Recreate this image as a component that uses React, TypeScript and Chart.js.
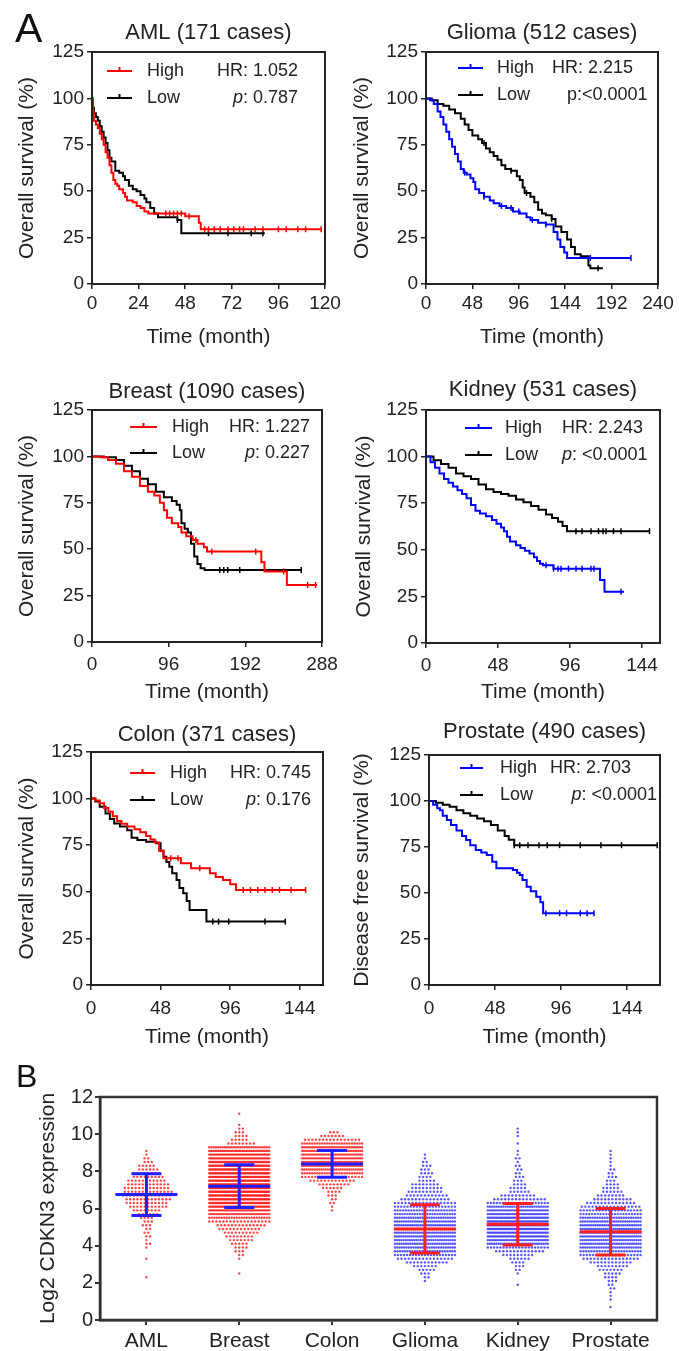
import React, { useEffect, useRef } from 'react';
import { Chart, registerables } from 'chart.js';

Chart.register(...registerables);

const FONT = '"Liberation Sans", Arial, Helvetica, sans-serif';
Chart.defaults.font.family = FONT;
const INK = '#222222';
const RED = '#ff0000';
const BLUE = '#0000ff';
const BLACK = '#000000';

// ================= Panel A: Kaplan-Meier data =================
const KM_TITLES = ['AML (171 cases)', 'Glioma (512 cases)', 'Breast (1090 cases)', 'Kidney (531 cases)', 'Colon (371 cases)', 'Prostate (490 cases)'];
const KM_Y_TITLES = ['Overall survival (%)', 'Overall survival (%)', 'Overall survival (%)', 'Overall survival (%)', 'Overall survival (%)', 'Disease free survival (%)'];
const KM_X_TITLE = 'Time (month)';
const HR_VALUES = ['1.052', '2.215', '1.227', '2.243', '0.745', '2.703'];
const P_VALUES = ['0.787', '<0.0001', '0.227', '<0.0001', '0.176', '<0.0001'];
const P_ITALIC = [true, false, true, true, true, true];
const P_SEP = [': ', ':', ': ', ': ', ': ', ': '];
const LEGEND_LABELS = ['High', 'Low'];
const SURV_TICKS = [0, 25, 50, 75, 100, 125];
const AML_TIME_TICKS = [0, 24, 48, 72, 96, 120];
const GLIOMA_TIME_TICKS = [0, 48, 96, 144, 192, 240];
const BREAST_TIME_TICKS = [0, 96, 192, 288];
const KIDNEY_TIME_TICKS = [0, 48, 96, 144];
const COLON_TIME_TICKS = [0, 48, 96, 144];
const PROSTATE_TIME_TICKS = [0, 48, 96, 144];
const TIME_MAX = [120, 240, 288, 156, 160, 168];

// [time (month), survival (%)]
const AML_HIGH = [[0, 100], [0.5, 93], [1, 88], [2, 86], [3, 84], [4, 81], [5, 78], [6, 75], [7, 71], [8, 68], [9, 64], [10, 60], [11, 56], [12, 54], [13, 53], [14, 51], [16, 49], [17, 47], [18, 45], [21, 44], [23, 42], [25, 41], [27, 39], [29, 38], [48, 36.5], [55, 33], [56, 29.5], [118, 29.5]];
const AML_LOW = [[0, 100], [0.5, 95], [1, 92], [2, 90], [3, 88], [4, 85], [5, 82], [6, 79], [7, 76], [8, 72], [9, 68], [10, 66], [12, 61], [14, 60], [16, 58], [17, 56], [19, 53], [21, 51], [23, 50], [25, 48], [27, 46], [28, 44], [30, 41], [32, 38], [34, 36], [44, 34.5], [46, 27.4], [89, 27.4]];
const AML_HIGH_CENS = [38, 40, 42, 44, 46, 50, 58, 60, 63, 66, 70, 73, 76, 78, 84, 88, 96, 100, 106, 110, 118];
const AML_LOW_CENS = [44, 60, 70, 82, 88];

const GLIOMA_HIGH = [[0, 100], [4, 99], [8, 97], [12, 93], [15, 90], [18, 86], [21, 82], [24, 78], [27, 74], [30, 70], [33, 66], [36, 62], [39, 60], [42, 59], [46, 57], [49, 55], [51, 51], [55, 49], [60, 47], [66, 45], [70, 43.5], [76, 42], [83, 41], [90, 39], [97, 38], [104, 36], [108, 34.5], [116, 33], [124, 32], [132, 28], [136, 24], [139, 20], [143, 17], [146, 14], [212, 14]];
const GLIOMA_LOW = [[0, 100], [6, 99], [12, 97], [18, 96], [24, 94], [30, 92], [36, 89], [40, 86], [44, 83], [48, 80], [54, 78], [58, 76], [62, 73], [66, 71], [70, 69], [74, 67], [78, 64], [82, 62], [88, 61], [94, 58], [97, 56], [100, 52], [102, 49], [108, 47], [112, 44], [116, 40], [120, 38], [124, 37], [130, 35], [134, 31], [140, 28], [146, 24], [150, 20], [154, 16], [160, 15], [168, 10], [170, 8.5], [183, 8.5]];
const GLIOMA_HIGH_CENS = [40, 60, 78, 88, 96, 110, 124, 170, 212];
const GLIOMA_LOW_CENS = [60, 88, 104, 130, 178];

const BREAST_HIGH = [[0, 100], [10, 99.5], [20, 98], [30, 96], [40, 92], [50, 89], [60, 84], [70, 81], [78, 79], [85, 75], [90, 71], [94, 67], [100, 64], [108, 62], [112, 59], [118, 57], [126, 55], [132, 53], [140, 51], [144, 48.7], [212, 43], [216, 38], [244, 30.7], [282, 30.7]];
const BREAST_LOW = [[0, 100], [15, 99.5], [30, 98], [40, 95], [50, 92], [60, 88], [70, 85], [80, 81], [90, 78], [100, 76], [106, 74], [110, 71], [112, 64], [116, 61], [120, 59], [124, 53], [128, 46], [132, 42], [136, 39.7], [141, 38.8], [262, 38.8]];
const BREAST_HIGH_CENS = [130, 150, 205, 240, 270, 280];
const BREAST_LOW_CENS = [160, 165, 170, 185, 262];

const KIDNEY_HIGH = [[0, 100], [3, 97], [6, 94], [9, 91], [12, 88], [15, 86], [18, 84], [21, 82], [24, 80], [27, 77.6], [30, 74], [33, 71], [36, 69.5], [40, 68], [44, 66], [47, 64], [50, 62], [52, 60], [54, 57], [56, 54.5], [60, 52.5], [63, 51], [66, 49.5], [69, 48], [72, 46], [74, 44], [76, 42.5], [78, 41.7], [85, 39.9], [116, 33.8], [119, 27.5], [132, 27.5]];
const KIDNEY_LOW = [[0, 100], [5, 98], [10, 96], [15, 94], [20, 91], [25, 89.5], [30, 88], [35, 85], [40, 82.5], [45, 81], [50, 80], [55, 79], [60, 77], [65, 75.5], [70, 73.5], [75, 71.5], [80, 69], [84, 67], [88, 65], [91, 62.8], [94, 60], [149, 60]];
const KIDNEY_HIGH_CENS = [80, 85, 88, 90, 95, 100, 104, 110, 112, 130];
const KIDNEY_LOW_CENS = [100, 104, 110, 115, 118, 120, 125, 130, 149];

const COLON_HIGH = [[0, 100], [3, 99], [6, 97.5], [9, 95], [12, 93], [15, 90.5], [18, 88], [21, 86.5], [25, 85], [30, 83.5], [34, 82], [38, 80], [41, 78], [44, 76.5], [47, 72], [50, 68], [62, 65.3], [69, 62.6], [82, 59.9], [86, 58], [91, 56.3], [96, 54], [100, 51], [148, 51]];
const COLON_LOW = [[0, 100], [3, 98.5], [6, 95.6], [10, 92], [13, 89], [16, 86.7], [20, 85], [25, 83], [28, 79], [32, 77.8], [38, 76.9], [45, 76], [48, 72], [50, 68.8], [52, 66], [54, 63.5], [56, 60], [59, 56.3], [61, 52], [63.6, 49.2], [66, 45], [68, 40.2], [79.6, 34], [134, 34]];
const COLON_HIGH_CENS = [55, 60, 75, 105, 110, 115, 120, 125, 130, 138, 148];
const COLON_LOW_CENS = [84, 88, 95, 120, 134];

const PROSTATE_HIGH = [[0, 100], [3, 98], [6, 96], [8, 95], [10, 92], [13, 89.7], [16, 87], [20, 84], [24, 81], [27, 78.8], [30, 76], [34, 73.4], [38, 72], [42, 70.7], [46, 67], [49, 63.4], [61, 62.5], [64, 61], [66, 59.8], [68, 57], [71, 53.4], [74, 51], [78, 48], [81, 45], [83, 39], [120, 39]];
const PROSTATE_LOW = [[0, 100], [5, 99], [10, 98], [15, 96.9], [20, 95], [25, 93.3], [30, 92], [35, 90.5], [40, 89], [45, 87], [50, 84], [55, 81], [58, 79], [62, 76], [166, 76]];
const PROSTATE_HIGH_CENS = [85, 95, 100, 110, 115, 120];
const PROSTATE_LOW_CENS = [62, 66, 72, 80, 86, 95, 110, 125, 140, 166];

const KM_HIGH = [AML_HIGH, GLIOMA_HIGH, BREAST_HIGH, KIDNEY_HIGH, COLON_HIGH, PROSTATE_HIGH];
const KM_LOW = [AML_LOW, GLIOMA_LOW, BREAST_LOW, KIDNEY_LOW, COLON_LOW, PROSTATE_LOW];
const KM_HIGH_CENS = [AML_HIGH_CENS, GLIOMA_HIGH_CENS, BREAST_HIGH_CENS, KIDNEY_HIGH_CENS, COLON_HIGH_CENS, PROSTATE_HIGH_CENS];
const KM_LOW_CENS = [AML_LOW_CENS, GLIOMA_LOW_CENS, BREAST_LOW_CENS, KIDNEY_LOW_CENS, COLON_LOW_CENS, PROSTATE_LOW_CENS];
const KM_TIME_TICKS = [AML_TIME_TICKS, GLIOMA_TIME_TICKS, BREAST_TIME_TICKS, KIDNEY_TIME_TICKS, COLON_TIME_TICKS, PROSTATE_TIME_TICKS];
const KM_HIGH_COLORS = [RED, BLUE, RED, BLUE, RED, BLUE];

// ================= Panel B: expression data =================
const EXPR_CATS = ['AML', 'Breast', 'Colon', 'Glioma', 'Kidney', 'Prostate'];
const EXPR_TICKS = [0, 2, 4, 6, 8, 10, 12];
const EXPR_BIN_WIDTH = 0.2;
const EXPR_BIN_START = [2.3, 2.5, 5.9, 2.1, 1.9, 0.7];
const AML_EXPR_COUNTS = [1, 0, 0, 0, 0, 1, 0, 0, 1, 2, 1, 2, 2, 2, 3, 3, 4, 6, 8, 11, 12, 13, 14, 14, 13, 12, 11, 9, 8, 6, 5, 3, 2, 1, 1];
const BREAST_EXPR_COUNTS = [1, 0, 0, 0, 1, 2, 3, 4, 5, 7, 8, 10, 12, 14, 18, 25, 35, 42, 50, 54, 57, 59, 60, 58, 57, 56, 55, 54, 53, 52, 50, 48, 46, 42, 28, 8, 5, 4, 3, 2, 1, 0, 0, 1];
const COLON_EXPR_COUNTS = [1, 1, 2, 2, 3, 4, 6, 9, 13, 19, 25, 29, 33, 35, 36, 36, 35, 31, 25, 16, 7, 3];
const GLIOMA_EXPR_COUNTS = [1, 2, 3, 5, 7, 12, 16, 21, 25, 27, 28, 29, 30, 30, 30, 29, 28, 27, 25, 23, 20, 18, 14, 12, 10, 9, 8, 5, 4, 4, 3, 3, 2, 1, 1];
const KIDNEY_EXPR_COUNTS = [1, 0, 0, 1, 2, 3, 4, 6, 9, 14, 20, 29, 34, 37, 39, 40, 40, 39, 37, 35, 31, 28, 21, 15, 10, 6, 5, 4, 3, 3, 2, 2, 2, 1, 2, 1, 1, 0, 1, 0, 1, 1, 1];
const PROSTATE_EXPR_COUNTS = [1, 0, 1, 1, 1, 2, 2, 3, 4, 5, 7, 9, 12, 16, 20, 23, 27, 29, 30, 31, 31, 30, 29, 28, 26, 22, 20, 17, 14, 11, 8, 6, 5, 4, 3, 3, 2, 2, 1, 1, 1, 1, 1];
const EXPR_COUNTS = [AML_EXPR_COUNTS, BREAST_EXPR_COUNTS, COLON_EXPR_COUNTS, GLIOMA_EXPR_COUNTS, KIDNEY_EXPR_COUNTS, PROSTATE_EXPR_COUNTS];
const EXPR_MEANS = [6.75, 7.2, 8.4, 4.9, 5.15, 4.75];
const EXPR_SDS = [1.12, 1.15, 0.72, 1.3, 1.12, 1.25];
const EXPR_DOT_COLORS = ['rgba(255,25,25,0.8)', 'rgba(255,25,25,0.8)', 'rgba(255,25,25,0.8)', 'rgba(45,45,255,0.8)', 'rgba(45,45,255,0.8)', 'rgba(45,45,255,0.8)'];
const EXPR_BAR_COLORS = ['#1f1fff', '#1f1fff', '#1f1fff', '#ff1f1f', '#ff1f1f', '#ff1f1f'];
const EXPR_Y_TITLE = 'Log2 CDKN3 expression';

// ================= Layout / style =================
type Area = { l: number; t: number; r: number; b: number };
type Pos = { align: 'left' | 'right'; dx: number };
type KMLayout = {
  canvas: { left: number; top: number; width: number };
  area: Area;
  yTitleX: number;
  titleDy: number;
  xTickPad: number;
  xTitleDy: number;
  legend: { x1: number; x2: number; tx: number; r1: number; r2: number };
  hr: Pos;
  p: Pos;
  letter?: string;
};
const KM_BOTTOM_EXTRA = 70;
const KM_LAYOUT: KMLayout[] = [
  { canvas: { left: 0, top: 0, width: 360 }, area: { l: 92, t: 52, r: 325, b: 284 }, yTitleX: 27, titleDy: 19, xTickPad: 3, xTitleDy: 53, legend: { x1: 15, x2: 40, tx: 55, r1: 19, r2: 46 }, hr: { align: 'right', dx: 206 }, p: { align: 'right', dx: 206 }, letter: 'A' },
  { canvas: { left: 340, top: 0, width: 339 }, area: { l: 426, t: 52, r: 658, b: 284 }, yTitleX: 22, titleDy: 19, xTickPad: 3, xTitleDy: 53, legend: { x1: 32, x2: 57, tx: 71, r1: 16, r2: 43 }, hr: { align: 'left', dx: 126 }, p: { align: 'left', dx: 141 } },
  { canvas: { left: 0, top: 358, width: 360 }, area: { l: 92, t: 410, r: 322, b: 642 }, yTitleX: 27, titleDy: 18, xTickPad: 6, xTitleDy: 50, legend: { x1: 38, x2: 65, tx: 80, r1: 17, r2: 43 }, hr: { align: 'right', dx: 218 }, p: { align: 'right', dx: 218 } },
  { canvas: { left: 340, top: 358, width: 339 }, area: { l: 426, t: 410, r: 660, b: 643 }, yTitleX: 24, titleDy: 20, xTickPad: 6, xTitleDy: 49, legend: { x1: 39, x2: 66, tx: 79, r1: 18, r2: 45 }, hr: { align: 'left', dx: 136 }, p: { align: 'left', dx: 136 } },
  { canvas: { left: 0, top: 700, width: 360 }, area: { l: 91, t: 752, r: 323, b: 985 }, yTitleX: 27, titleDy: 17, xTickPad: 7, xTitleDy: 52, legend: { x1: 39, x2: 64, tx: 79, r1: 21, r2: 48 }, hr: { align: 'right', dx: 220 }, p: { align: 'right', dx: 220 } },
  { canvas: { left: 340, top: 700, width: 339 }, area: { l: 429, t: 755, r: 660, b: 985 }, yTitleX: 22, titleDy: 23, xTickPad: 7, xTitleDy: 52, legend: { x1: 31, x2: 54, tx: 71, r1: 13, r2: 40 }, hr: { align: 'left', dx: 121 }, p: { align: 'right', dx: 228 } },
];

const B_CANVAS = { left: 0, top: 1050, width: 679, height: 301 };
const B_AREA: Area = { l: 100, t: 1097, r: 657, b: 1320 };
const PX_PER_CAT = (B_AREA.r - B_AREA.l) / EXPR_CATS.length;
const DOT_GAP_PX = 3.6;
const SWARM_HALF_PX = 30;
const MEAN_HALF_PX = 31;
const CAP_HALF_PX = 15;

// ================= helpers =================
function stepValue(curve: number[][], t: number) {
  let v = curve[0][1];
  for (const [x, y] of curve) {
    if (x <= t) v = y;
    else break;
  }
  return v;
}

function drawParts(ctx: CanvasRenderingContext2D, parts: { t: string; it?: boolean }[], x: number, y: number, align: 'left' | 'right', size: number) {
  const fonts = parts.map((pt) => `${pt.it ? 'italic ' : ''}${size}px ${FONT}`);
  const widths = parts.map((pt, i) => {
    ctx.font = fonts[i];
    return ctx.measureText(pt.t).width;
  });
  const total = widths.reduce((s, w) => s + w, 0);
  let cx = align === 'left' ? x : x - total;
  ctx.textAlign = 'left';
  parts.forEach((pt, i) => {
    ctx.font = fonts[i];
    ctx.fillText(pt.t, cx, y);
    cx += widths[i];
  });
}

function kmDecor(i: number) {
  const L = KM_LAYOUT[i];
  return {
    id: 'kmDecor',
    afterDraw(chart: any) {
      const { ctx, chartArea: a } = chart;
      ctx.save();
      ctx.strokeStyle = INK;
      ctx.lineWidth = 2;
      ctx.strokeRect(a.left, a.top, a.right - a.left, a.bottom - a.top);

      ctx.fillStyle = INK;
      ctx.textBaseline = 'middle';
      ctx.textAlign = 'center';
      ctx.font = `22px ${FONT}`;
      ctx.fillText(KM_TITLES[i], (a.left + a.right) / 2, a.top - L.titleDy);

      const colors = [KM_HIGH_COLORS[i], BLACK];
      const rows = [L.legend.r1, L.legend.r2];
      rows.forEach((dy, k) => {
        const y = a.top + dy;
        ctx.strokeStyle = colors[k];
        ctx.lineWidth = 2;
        ctx.beginPath();
        ctx.moveTo(a.left + L.legend.x1, y);
        ctx.lineTo(a.left + L.legend.x2, y);
        const mid = a.left + (L.legend.x1 + L.legend.x2) / 2;
        ctx.moveTo(mid, y);
        ctx.lineTo(mid, y - 4);
        ctx.stroke();
        ctx.fillStyle = INK;
        drawParts(ctx, [{ t: LEGEND_LABELS[k] }], a.left + L.legend.tx, y, 'left', 18);
      });

      ctx.fillStyle = INK;
      drawParts(ctx, [{ t: 'HR: ' + HR_VALUES[i] }], a.left + L.hr.dx, a.top + L.legend.r1, L.hr.align, 18);
      const pParts = P_ITALIC[i]
        ? [{ t: 'p', it: true }, { t: P_SEP[i] + P_VALUES[i] }]
        : [{ t: 'p' + P_SEP[i] + P_VALUES[i] }];
      drawParts(ctx, pParts, a.left + L.p.dx, a.top + L.legend.r2, L.p.align, 18);

      if (L.letter) {
        ctx.fillStyle = '#111';
        ctx.textBaseline = 'alphabetic';
        ctx.textAlign = 'left';
        ctx.font = `41px ${FONT}`;
        ctx.fillText(L.letter, 15, 42);
      }
      ctx.restore();
    },
  };
}

function buildKMConfig(i: number): any {
  const L = KM_LAYOUT[i];
  const canvasW = L.canvas.width;
  const plotBottom = L.area.b - L.canvas.top;
  const canvasH = plotBottom + KM_BOTTOM_EXTRA;
  const color = KM_HIGH_COLORS[i];
  const curveSet = (label: string, curve: number[][], c: string) => ({
    label,
    data: curve.map(([x, y]) => ({ x, y })),
    borderColor: c,
    backgroundColor: c,
    borderWidth: 2,
    stepped: true,
    pointRadius: 0,
    fill: false,
    tension: 0,
  });
  const censSet = (label: string, curve: number[][], cens: number[], c: string) => ({
    label,
    data: cens.map((t) => ({ x: t, y: stepValue(curve, t) })),
    showLine: false,
    borderColor: c,
    backgroundColor: c,
    pointStyle: 'line',
    pointRotation: 90,
    pointRadius: 3,
    pointBorderWidth: 1.5,
    pointBorderColor: c,
  });
  const axisGrid = { drawOnChartArea: false, tickLength: 5, color: INK, lineWidth: 1.5 };
  return {
    type: 'line',
    data: {
      datasets: [
        curveSet('High', KM_HIGH[i], color),
        censSet('High censored', KM_HIGH[i], KM_HIGH_CENS[i], color),
        curveSet('Low', KM_LOW[i], BLACK),
        censSet('Low censored', KM_LOW[i], KM_LOW_CENS[i], BLACK),
      ],
    },
    options: {
      responsive: false,
      animation: false,
      events: [],
      layout: { padding: { left: 0, top: L.area.t - L.canvas.top, right: L.canvas.left + canvasW - L.area.r, bottom: 0 } },
      plugins: { legend: { display: false }, tooltip: { enabled: false }, title: { display: false } },
      scales: {
        x: {
          type: 'linear',
          min: 0,
          max: TIME_MAX[i],
          bounds: 'data',
          afterBuildTicks: (s: any) => {
            s.ticks = KM_TIME_TICKS[i].map((v) => ({ value: v }));
          },
          ticks: { font: { size: 19 }, color: INK, padding: L.xTickPad, maxRotation: 0, autoSkip: false },
          grid: axisGrid,
          border: { color: INK, width: 2 },
          title: { display: true, text: KM_X_TITLE, font: { size: 21 }, color: INK, padding: { top: 0, bottom: KM_BOTTOM_EXTRA - 12.6 - L.xTitleDy } },
          afterFit: (s: any) => {
            s.height = canvasH - plotBottom;
            s.paddingLeft = 0;
            s.paddingRight = 0;
          },
        },
        y: {
          type: 'linear',
          min: 0,
          max: 125,
          bounds: 'data',
          afterBuildTicks: (s: any) => {
            s.ticks = SURV_TICKS.map((v) => ({ value: v }));
          },
          ticks: { font: { size: 19 }, color: INK, padding: 3 },
          grid: axisGrid,
          border: { color: INK, width: 2 },
          title: { display: true, text: KM_Y_TITLES[i], font: { size: 21 }, color: INK, padding: { top: L.yTitleX - 12.6, bottom: 0 } },
          afterFit: (s: any) => {
            s.width = L.area.l - L.canvas.left;
            s.paddingTop = 0;
            s.paddingBottom = 0;
          },
        },
      },
    },
    plugins: [kmDecor(i)],
  };
}

function swarmPoints(catIndex: number) {
  const start = EXPR_BIN_START[catIndex];
  const pts: { x: number; y: number }[] = [];
  EXPR_COUNTS[catIndex].forEach((c, k) => {
    const y = start + k * EXPR_BIN_WIDTH;
    const gap = c > 1 ? Math.min(DOT_GAP_PX, (2 * SWARM_HALF_PX) / (c - 1)) : 0;
    // alternate rows are shifted by half a gap so columns do not line up
    const shift = k % 2 === 1 && c > 1 && c * gap < 2 * SWARM_HALF_PX - gap ? gap / 2 : 0;
    for (let j = 0; j < c; j++) {
      const offPx = (j - (c - 1) / 2) * gap + shift;
      pts.push({ x: catIndex + 1 + offPx / PX_PER_CAT, y });
    }
  });
  return pts;
}

const exprDecor = {
  id: 'exprDecor',
  afterDatasetsDraw(chart: any) {
    const { ctx, scales } = chart;
    const x = scales.x;
    const y = scales.y;
    ctx.save();
    ctx.lineWidth = 3;
    EXPR_MEANS.forEach((m, i) => {
      const cx = x.getPixelForValue(i + 1);
      const ym = y.getPixelForValue(m);
      const yt = y.getPixelForValue(m + EXPR_SDS[i]);
      const yb = y.getPixelForValue(m - EXPR_SDS[i]);
      ctx.strokeStyle = EXPR_BAR_COLORS[i];
      ctx.beginPath();
      ctx.moveTo(cx - MEAN_HALF_PX, ym);
      ctx.lineTo(cx + MEAN_HALF_PX, ym);
      ctx.moveTo(cx - CAP_HALF_PX, yt);
      ctx.lineTo(cx + CAP_HALF_PX, yt);
      ctx.moveTo(cx - CAP_HALF_PX, yb);
      ctx.lineTo(cx + CAP_HALF_PX, yb);
      ctx.moveTo(cx, yt);
      ctx.lineTo(cx, yb);
      ctx.stroke();
    });
    ctx.restore();
  },
  afterDraw(chart: any) {
    const { ctx, chartArea: a } = chart;
    ctx.save();
    ctx.strokeStyle = '#333';
    ctx.lineWidth = 2.5;
    ctx.strokeRect(a.left, a.top, a.right - a.left, a.bottom - a.top);
    ctx.fillStyle = '#111';
    ctx.textBaseline = 'alphabetic';
    ctx.textAlign = 'left';
    ctx.font = `32px ${FONT}`;
    ctx.fillText('B', 16, 37);
    ctx.restore();
  },
};

function buildExprConfig(): any {
  const axisGrid = { drawOnChartArea: false, tickLength: 5, color: '#333', lineWidth: 2 };
  const plotBottom = B_AREA.b - B_CANVAS.top;
  return {
    type: 'scatter',
    data: {
      datasets: EXPR_CATS.map((c, i) => ({
        label: c,
        data: swarmPoints(i),
        pointRadius: 1.2,
        pointStyle: 'circle',
        pointBackgroundColor: EXPR_DOT_COLORS[i],
        backgroundColor: EXPR_DOT_COLORS[i],
        pointBorderWidth: 0,
        borderWidth: 0,
      })),
    },
    options: {
      responsive: false,
      animation: false,
      events: [],
      layout: { padding: { left: 0, top: B_AREA.t - B_CANVAS.top, right: B_CANVAS.left + B_CANVAS.width - B_AREA.r, bottom: 0 } },
      plugins: { legend: { display: false }, tooltip: { enabled: false } },
      scales: {
        x: {
          type: 'linear',
          min: 0.5,
          max: EXPR_CATS.length + 0.5,
          bounds: 'data',
          afterBuildTicks: (s: any) => {
            s.ticks = EXPR_CATS.map((_, i) => ({ value: i + 1 }));
          },
          ticks: {
            font: { size: 21 },
            color: INK,
            padding: 3.4,
            maxRotation: 0,
            autoSkip: false,
            callback: (v: number) => EXPR_CATS[Math.round(v) - 1] ?? '',
          },
          grid: axisGrid,
          border: { color: '#333', width: 2.5 },
          afterFit: (s: any) => {
            s.height = B_CANVAS.height - plotBottom;
            s.paddingLeft = 0;
            s.paddingRight = 0;
          },
        },
        y: {
          type: 'linear',
          min: 0,
          max: 12,
          bounds: 'data',
          afterBuildTicks: (s: any) => {
            s.ticks = EXPR_TICKS.map((v) => ({ value: v }));
          },
          ticks: { font: { size: 20 }, color: INK, padding: 2 },
          grid: axisGrid,
          border: { color: '#333', width: 2.5 },
          title: { display: true, text: EXPR_Y_TITLE, font: { size: 21 }, color: INK, padding: { top: 35.4, bottom: 0 } },
          afterFit: (s: any) => {
            s.width = B_AREA.l - B_CANVAS.left;
            s.paddingTop = 0;
            s.paddingBottom = 0;
          },
        },
      },
    },
    plugins: [exprDecor],
  };
}

function KMPanel({ idx }: { idx: number }) {
  const ref = useRef<HTMLCanvasElement | null>(null);
  const L = KM_LAYOUT[idx];
  const width = L.canvas.width;
  const height = L.area.b - L.canvas.top + KM_BOTTOM_EXTRA;
  useEffect(() => {
    if (!ref.current) return;
    const chart = new Chart(ref.current, buildKMConfig(idx));
    return () => chart.destroy();
  }, [idx]);
  return (
    <canvas
      ref={ref}
      width={width}
      height={height}
      style={{ position: 'absolute', left: L.canvas.left, top: L.canvas.top, width, height }}
    />
  );
}

function ExprPanel() {
  const ref = useRef<HTMLCanvasElement | null>(null);
  useEffect(() => {
    if (!ref.current) return;
    const chart = new Chart(ref.current, buildExprConfig());
    return () => chart.destroy();
  }, []);
  return (
    <canvas
      ref={ref}
      width={B_CANVAS.width}
      height={B_CANVAS.height}
      style={{ position: 'absolute', left: B_CANVAS.left, top: B_CANVAS.top, width: B_CANVAS.width, height: B_CANVAS.height }}
    />
  );
}

export default function App() {
  return (
    <div style={{ position: 'absolute', left: 0, top: 0, width: 679, height: 1351, background: '#ffffff', overflow: 'hidden' }}>
      {KM_LAYOUT.map((_, i) => (
        <KMPanel key={i} idx={i} />
      ))}
      <ExprPanel />
    </div>
  );
}
